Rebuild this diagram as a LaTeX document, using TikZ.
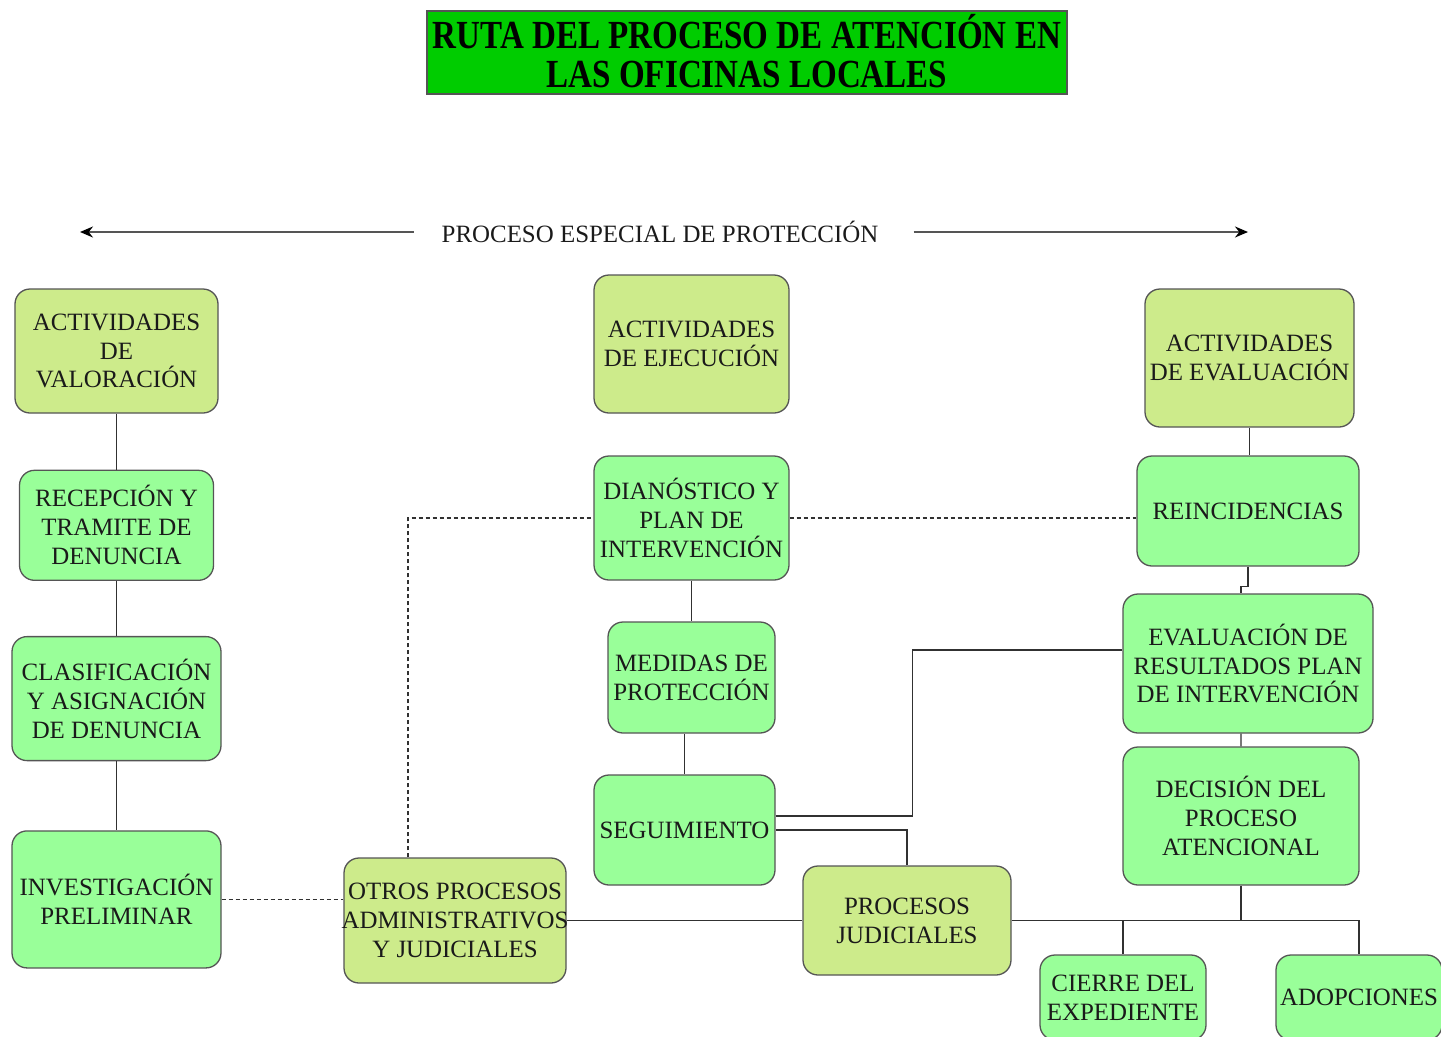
\documentclass[tikz,border=0pt]{standalone}
\usepackage{fontspec}
\setmainfont{Liberation Serif}
\newfontfamily\titlefont[FakeStretch=0.83]{Liberation Serif}
\usetikzlibrary{positioning,arrows.meta}
\definecolor{olivebox}{HTML}{CDEB8B}
\definecolor{greenbox}{HTML}{99FF99}
\definecolor{titlegreen}{HTML}{00CC00}
\definecolor{edge}{HTML}{555555}
\definecolor{ink}{HTML}{1A1A1A}

\begin{document}
\begin{tikzpicture}[
  x=1bp, y=-1bp,
  font=\fontsize{25}{29}\selectfont,
  box/.style={draw=edge, line width=1.3bp, rounded corners=15bp, align=center, inner sep=0pt, text=ink},
  olv/.style={box, fill=olivebox},
  grn/.style={box, fill=greenbox},
  link/.style={draw=ink!90, line width=1.3bp},
  dlink/.style={link, dash pattern=on 4bp off 3bp},
  arr/.style={draw=edge, line width=1.6bp, -{Stealth[length=13bp,width=11bp,black]}}
]
\useasboundingbox (0,0) rectangle (1441,1036);
\clip (0,0) rectangle (1441,1036);

% ---- title ----
\node[draw=edge, line width=1.3bp, fill=titlegreen, minimum width=640bp, minimum height=83bp,
  align=center, inner sep=0pt, font=\titlefont\bfseries\fontsize{40}{39}\selectfont] (title)
  at (747,52.5) {\raisebox{3bp}{RUTA DEL PROCESO DE ATENCIÓN EN}\\\raisebox{3bp}{LAS OFICINAS LOCALES}};

% ---- process span ----
\node[inner sep=0pt, text=ink] (pep) at (660,232) {PROCESO ESPECIAL DE PROTECCIÓN};
\coordinate (lend) at (80,232);
\coordinate (rend) at (1248,232);
\draw[arr] ([xshift=-28bp]pep.west) -- (lend);
\draw[arr] ([xshift=35bp]pep.east) -- (rend);

% ---- valoracion column ----
\node[olv, minimum width=203bp, minimum height=124bp] (val) at (116.5,351) {ACTIVIDADES\\DE\\VALORACIÓN};
\node[grn, minimum width=194bp, minimum height=110bp, below=56bp of val] (rec) {RECEPCIÓN Y\\TRAMITE DE\\DENUNCIA};
\node[grn, minimum width=209bp, minimum height=124bp, below=55bp of rec] (clas) {CLASIFICACIÓN\\Y ASIGNACIÓN\\DE DENUNCIA};
\node[grn, minimum width=209bp, minimum height=137bp, below=69bp of clas] (inv) {INVESTIGACIÓN\\PRELIMINAR};

% ---- ejecucion column ----
\node[olv, minimum width=195bp, minimum height=138bp] (eje) at (691.5,344) {ACTIVIDADES\\DE EJECUCIÓN};
\node[grn, minimum width=195bp, minimum height=124bp] (diag) at (691.5,518) {DIANÓSTICO Y\\PLAN DE\\INTERVENCIÓN};
\node[grn, minimum width=167bp, minimum height=111bp] (med) at (691.5,677.5) {MEDIDAS DE\\PROTECCIÓN};
\node[grn, minimum width=181bp, minimum height=110bp] (seg) at (684.5,830) {SEGUIMIENTO};
\node[olv, minimum width=222bp, minimum height=125bp] (otros) at (455,920.5) {};
\node[text=ink, align=center, inner sep=0pt] (otrostxt) at (otros.center) {OTROS PROCESOS\\ADMINISTRATIVOS\\Y JUDICIALES};
\node[olv, minimum width=208bp, minimum height=109bp] (jud) at (907,920.5) {PROCESOS\\JUDICIALES};

% ---- evaluacion column ----
\node[olv, minimum width=209bp, minimum height=138bp] (eva) at (1249.5,358) {ACTIVIDADES\\DE EVALUACIÓN};
\node[grn, minimum width=222bp, minimum height=110bp] (rein) at (1248,511) {REINCIDENCIAS};
\node[grn, minimum width=250bp, minimum height=139bp] (res) at (1248,663.5) {EVALUACIÓN DE\\RESULTADOS PLAN\\DE INTERVENCIÓN};
\node[grn, minimum width=236bp, minimum height=138bp] (dec) at (1241,816) {DECISIÓN DEL\\PROCESO\\ATENCIONAL};
\node[grn, minimum width=166bp, minimum height=85bp] (cie) at (1123,997.5) {CIERRE DEL\\EXPEDIENTE};
\node[grn, minimum width=166bp, minimum height=85bp] (adop) at (1359,997.5) {ADOPCIONES};

% ---- solid links ----
\draw[link] (val.south) -- (rec.north);
\draw[link] (rec.south) -- (clas.north);
\draw[link] (clas.south) -- (inv.north);
\draw[link] (diag.south) -- (med.north);
\draw[link] (seg.north) -- (seg.north |- med.south);
\draw[link] ([yshift=14bp]seg.east) -| ([xshift=-210bp,yshift=13.5bp]res.west) -- ([yshift=13.5bp]res.west);
\draw[link] (seg.east) -| (jud.north);
\draw[link] (otros.east) -- (jud.west);
\draw[link] (jud.east) -| (adop.north);
\draw[link] (dec.south) -- (dec.south |- jud.east);
\draw[link] (cie.north) -- (cie.north |- jud.east);
\draw[link] (eva.south) -- (eva.south |- rein.north);
\draw[link] (rein.south) -- ([yshift=-20bp]rein.south) -| ([xshift=-7bp]res.north);
\draw[link] ([xshift=-7bp]res.south) -- (dec.north);

% ---- dashed links ----
\draw[dlink] (inv.east) -- (inv.east -| otros.west);
\draw[dlink] ([xshift=-47bp]otros.north) |- (diag.west);
\draw[dlink] (diag.east) -- (diag.east -| rein.west);
\end{tikzpicture}
\end{document}
